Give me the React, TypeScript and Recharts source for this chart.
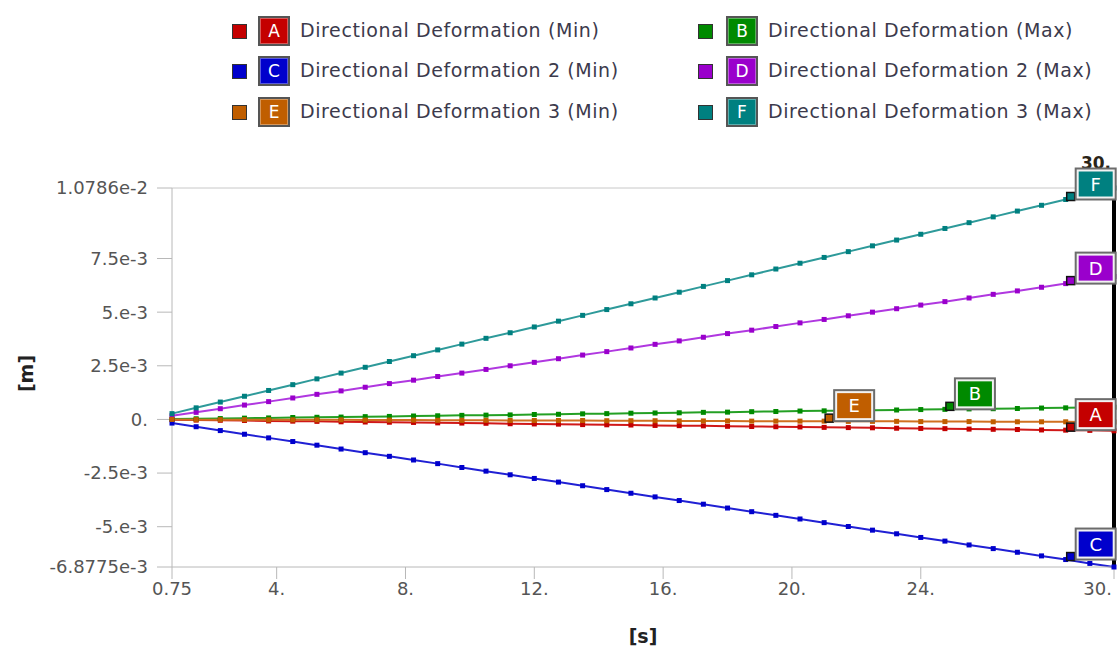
import React from "react";
import { LineChart, Line, XAxis, YAxis, ReferenceLine, Legend } from "recharts";

// time steps [s]
const time = [
  0.75, 1.5, 2.25, 3, 3.75, 4.5, 5.25, 6, 6.75, 7.5,
  8.25, 9, 9.75, 10.5, 11.25, 12, 12.75, 13.5, 14.25, 15,
  15.75, 16.5, 17.25, 18, 18.75, 19.5, 20.25, 21, 21.75, 22.5,
  23.25, 24, 24.75, 25.5, 26.25, 27, 27.75, 28.5, 29.25, 30,
];

// values in 1e-3 m
const dirMin = [
  -0.01, -0.03, -0.04, -0.05, -0.07, -0.08, -0.09, -0.11, -0.12, -0.13,
  -0.14, -0.16, -0.17, -0.18, -0.2, -0.21, -0.22, -0.24, -0.25, -0.26,
  -0.28, -0.29, -0.3, -0.32, -0.33, -0.34, -0.35, -0.37, -0.38, -0.39,
  -0.41, -0.42, -0.43, -0.45, -0.46, -0.47, -0.49, -0.5, -0.51, -0.53,
];
const dirMax = [
  0.02, 0.03, 0.04, 0.06, 0.07, 0.09, 0.1, 0.11, 0.13, 0.14,
  0.16, 0.17, 0.19, 0.2, 0.21, 0.23, 0.24, 0.26, 0.27, 0.29,
  0.3, 0.31, 0.33, 0.34, 0.36, 0.37, 0.39, 0.4, 0.41, 0.43,
  0.44, 0.46, 0.47, 0.49, 0.5, 0.51, 0.53, 0.54, 0.56, 0.57,
];
const dir2Min = [
  -0.17, -0.34, -0.52, -0.69, -0.86, -1.03, -1.2, -1.38, -1.55, -1.72,
  -1.89, -2.06, -2.24, -2.41, -2.58, -2.75, -2.92, -3.09, -3.27, -3.44,
  -3.61, -3.78, -3.95, -4.13, -4.3, -4.47, -4.64, -4.81, -4.99, -5.16,
  -5.33, -5.5, -5.67, -5.85, -6.02, -6.19, -6.36, -6.53, -6.71, -6.8775,
];
const dir2Max = [
  0.17, 0.33, 0.5, 0.67, 0.83, 1.0, 1.17, 1.33, 1.5, 1.67,
  1.83, 2.0, 2.16, 2.33, 2.5, 2.66, 2.83, 3.0, 3.16, 3.33,
  3.5, 3.66, 3.83, 4.0, 4.16, 4.33, 4.5, 4.66, 4.83, 5.0,
  5.16, 5.33, 5.49, 5.66, 5.83, 5.99, 6.16, 6.33, 6.49, 6.66,
];
const dir3Min = [
  0.0, -0.01, -0.01, -0.01, -0.02, -0.02, -0.02, -0.02, -0.03, -0.03,
  -0.03, -0.04, -0.04, -0.04, -0.05, -0.05, -0.05, -0.05, -0.06, -0.06,
  -0.06, -0.07, -0.07, -0.07, -0.08, -0.08, -0.08, -0.08, -0.09, -0.09,
  -0.09, -0.1, -0.1, -0.1, -0.11, -0.11, -0.11, -0.11, -0.12, -0.12,
];
const dir3Max = [
  0.27, 0.54, 0.81, 1.08, 1.35, 1.62, 1.89, 2.16, 2.43, 2.7,
  2.97, 3.24, 3.51, 3.78, 4.04, 4.31, 4.58, 4.85, 5.12, 5.39,
  5.66, 5.93, 6.2, 6.47, 6.74, 7.01, 7.28, 7.55, 7.82, 8.09,
  8.36, 8.63, 8.9, 9.17, 9.44, 9.71, 9.98, 10.25, 10.52, 10.786,
];

const xTicks = [0.75, 4, 8, 12, 16, 20, 24, 30];
const xTickLabels = ["0.75", "4.", "8.", "12.", "16.", "20.", "24.", "30."];
const yTicks = [-6.8775, -5, -2.5, 0, 2.5, 5, 7.5, 10.786];
const yTickLabels = ["-6.8775e-3", "-5.e-3", "-2.5e-3", "0.", "2.5e-3", "5.e-3", "7.5e-3", "1.0786e-2"];

const series = [
  { key: "A", name: "Directional Deformation (Min)", values: dirMin, box: "#c40000", line: "#d01818", tagAt: 28.5 },
  { key: "B", name: "Directional Deformation (Max)", values: dirMax, box: "#008a00", line: "#24a024", tagAt: 24.75 },
  { key: "C", name: "Directional Deformation 2 (Min)", values: dir2Min, box: "#0000cc", line: "#2020d4", tagAt: 28.5 },
  { key: "D", name: "Directional Deformation 2 (Max)", values: dir2Max, box: "#9a00cc", line: "#b038e0", tagAt: 28.5 },
  { key: "E", name: "Directional Deformation 3 (Min)", values: dir3Min, box: "#c05e00", line: "#d07020", tagAt: 21 },
  { key: "F", name: "Directional Deformation 3 (Max)", values: dir3Max, box: "#008080", line: "#2e9a9a", tagAt: 28.5 },
];

const data = time.map((t, i) => {
  const row: Record<string, number> = { t };
  series.forEach((s) => (row[s.key] = s.values[i]));
  return row;
});

const FONT = "DejaVu Sans";

const smallDot = (color: string) => (props: any) => {
  const { cx, cy, index } = props;
  return <rect key={index} x={cx - 2.5} y={cy - 2.5} width={5} height={5} fill={color} />;
};

const tagDot = (s: typeof series[number]) => (props: any) => {
  const { cx, cy, index } = props;
  if (time[index] !== s.tagAt) return <g key={index} />;
  return (
    <g key={index}>
      <rect x={cx + 1} y={cy - 7} width={8} height={8} fill={s.box} stroke="#111" strokeWidth={1.5} />
      <rect x={cx + 10} y={cy - 31} width={40} height={31} fill="#f2f2f2" stroke="#6c6c6c" strokeWidth={2} />
      <rect x={cx + 13} y={cy - 28} width={34} height={25} fill={s.box} />
      <text x={cx + 30} y={cy - 9} textAnchor="middle" fill="#fff" fontSize={18} fontFamily={FONT}>
        {s.key}
      </text>
    </g>
  );
};

const XTick = (props: any) => {
  const { x, y, payload } = props;
  const i = xTicks.indexOf(payload.value);
  const last = i === xTicks.length - 1;
  return (
    <text x={last ? x + 1 : x} y={y + 14} textAnchor={last ? "end" : "middle"} fill="#555" fontSize={18} fontFamily={FONT}>
      {xTickLabels[i]}
    </text>
  );
};

const LegendBox = () => {
  const cols = [
    { sq: 232, box: 258, text: 300 },
    { sq: 698, box: 726, text: 768 },
  ];
  const rows = [31, 71, 112];
  return (
    <div style={{ position: "relative", width: 1119, height: 130 }}>
      {series.map((s, i) => {
        const c = cols[i % 2];
        const y = rows[Math.floor(i / 2)];
        return (
          <React.Fragment key={s.key}>
            <div style={{ position: "absolute", left: c.sq, top: y - 7, width: 13, height: 13, background: s.box, border: "1.5px solid #333" }} />
            <div style={{ position: "absolute", left: c.box, top: y - 15, width: 28, height: 26, background: s.box, border: "2px solid #555", boxShadow: "inset 0 0 0 1px rgba(255,255,255,0.35)", color: "#fff", fontFamily: FONT, fontSize: 17, lineHeight: "26px", textAlign: "center" }}>
              {s.key}
            </div>
            <div style={{ position: "absolute", left: c.text, top: y - 13, fontFamily: FONT, fontSize: 19, letterSpacing: 0.6, color: "#3c3a4c", whiteSpace: "nowrap", lineHeight: "24px" }}>
              {s.name}
            </div>
          </React.Fragment>
        );
      })}
    </div>
  );
};

const CursorLabel = (props: any) => {
  const { viewBox } = props;
  return (
    <text x={viewBox.x - 3} y={viewBox.y - 19} textAnchor="end" fontFamily={FONT} fontSize={17} fontWeight="bold" fill="#2a2418">
      30.
    </text>
  );
};

export default function App() {
  return (
    <div style={{ position: "fixed", left: 0, top: 0, width: 1119, height: 656, background: "#fff" }}>
      <LineChart width={1119} height={656} data={data} margin={{ top: 188, right: 5, left: 22, bottom: 29 }}>
        <XAxis
          dataKey="t"
          type="number"
          domain={[0.75, 30]}
          ticks={xTicks}
          stroke="#b8b8b8"
          tickSize={12}
          height={60}
          tick={<XTick />}
          label={(p: any) => (
            <text x={p.viewBox.x + p.viewBox.width / 2} y={p.viewBox.y + 76} textAnchor="middle" fontFamily={FONT} fontSize={19} fontWeight="bold" fill="#222">
              [s]
            </text>
          )}
        />
        <YAxis
          type="number"
          domain={[-6.8775, 10.786]}
          ticks={yTicks}
          tickFormatter={(v: number) => yTickLabels[yTicks.indexOf(v)] ?? ""}
          stroke="#b8b8b8"
          tickSize={15}
          tickMargin={9}
          width={150}
          tick={{ fill: "#555", fontSize: 18, fontFamily: FONT }}
          label={(p: any) => (
            <text
              x={p.viewBox.x + 4}
              y={p.viewBox.y + p.viewBox.height / 2 - 4}
              transform={`rotate(-90 ${p.viewBox.x + 4} ${p.viewBox.y + p.viewBox.height / 2 - 4})`}
              textAnchor="middle"
              dominantBaseline="central"
              fontFamily={FONT}
              fontSize={19}
              fontWeight="bold"
              fill="#222"
            >
              [m]
            </text>
          )}
        />
        <ReferenceLine y={10.786} stroke="#c8c8c8" />
        {series.map((s) => (
          <Line
            key={s.key}
            dataKey={s.key}
            stroke={s.line}
            strokeWidth={2}
            dot={smallDot(s.box)}
            activeDot={false}
            isAnimationActive={false}
            legendType="none"
          />
        ))}
        <ReferenceLine x={30} stroke="#000" strokeWidth={4} label={<CursorLabel />} />
        {series.map((s) => (
          <Line
            key={"tag" + s.key}
            dataKey={s.key}
            stroke="none"
            dot={tagDot(s)}
            activeDot={false}
            isAnimationActive={false}
            legendType="none"
          />
        ))}
        <Legend
          layout="vertical"
          verticalAlign="middle"
          align="center"
          wrapperStyle={{ top: 0, left: 0, width: 1119 }}
          content={() => <LegendBox />}
        />
      </LineChart>
    </div>
  );
}
